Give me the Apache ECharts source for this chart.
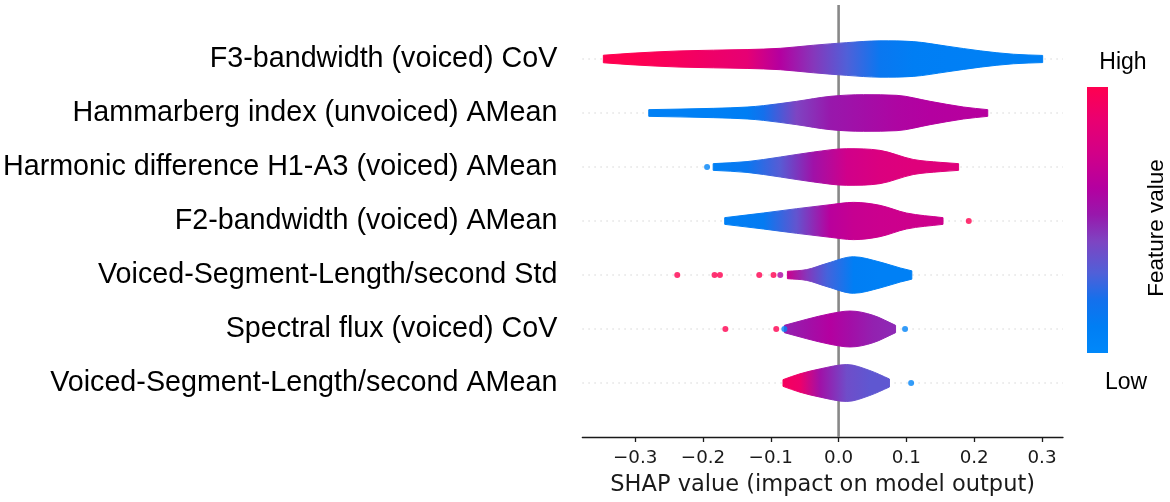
<!DOCTYPE html>
<html><head><meta charset="utf-8">
<script src="https://cdn.jsdelivr.net/npm/echarts@6/dist/echarts.min.js"></script>
<style>html,body{margin:0;padding:0;background:#fff;}#c{width:1170px;height:502px;}</style>
</head><body><div id="c"></div>
<script>
// Features, top row first
const features = [
  'F3-bandwidth (voiced) CoV',
  'Hammarberg index (unvoiced) AMean',
  'Harmonic difference H1-A3 (voiced) AMean',
  'F2-bandwidth (voiced) AMean',
  'Voiced-Segment-Length/second Std',
  'Spectral flux (voiced) CoV',
  'Voiced-Segment-Length/second AMean'
];
// SHAP positions sampled along each violin
const shapSamples = [
  [-0.347,-0.3075,-0.234,-0.135,-0.086,-0.037,0.012,0.061,0.110,0.160,0.209,0.258,0.301],
  [-0.280,-0.185,-0.135,-0.111,-0.062,-0.0125,0.037,0.086,0.135,0.184,0.220],
  [-0.185,-0.135,-0.086,-0.037,0.012,0.061,0.110,0.150,0.177],
  [-0.168,-0.111,-0.062,-0.0125,0.022,0.061,0.100,0.154],
  [-0.0755,-0.047,-0.017,0.022,0.061,0.091,0.108],
  [-0.080,-0.047,-0.0125,0.017,0.051,0.084],
  [-0.082,-0.057,-0.027,0.012,0.046,0.075]
];
// density half-width (in row units) at each sample
const halfWidths = [
  [0.070,0.105,0.150,0.175,0.198,0.255,0.303,0.336,0.322,0.237,0.151,0.088,0.066],
  [0.062,0.086,0.110,0.136,0.216,0.308,0.339,0.327,0.216,0.111,0.062],
  [0.062,0.100,0.185,0.277,0.339,0.308,0.140,0.086,0.062],
  [0.062,0.148,0.228,0.302,0.345,0.290,0.148,0.062],
  [0.068,0.100,0.216,0.338,0.240,0.130,0.077],
  [0.068,0.180,0.283,0.333,0.253,0.068],
  [0.062,0.170,0.262,0.342,0.231,0.074]
];
// mean feature value (0 = low, 1 = high) at each sample
const featureLevels = [
  [1.0,1.0,0.95,0.86,0.62,0.45,0.30,0.15,0.10,0.09,0.08,0.08,0.08],
  [0.08,0.08,0.10,0.20,0.42,0.52,0.56,0.60,0.62,0.63,0.63],
  [0.08,0.15,0.32,0.55,0.74,0.80,0.82,0.82,0.82],
  [0.08,0.12,0.35,0.64,0.70,0.72,0.73,0.73],
  [0.72,0.45,0.28,0.10,0.08,0.08,0.08],
  [0.50,0.55,0.62,0.56,0.50,0.48],
  [0.95,0.90,0.55,0.38,0.34,0.34]
];
// outlier points
const outlierShap = [
  [], [], [-0.194], [0.192],
  [-0.238,-0.183,-0.175,-0.117,-0.096,-0.086],
  [-0.167,-0.092,-0.080,0.098],
  [0.107]
];
const outlierLevels = [
  [], [], [0.05], [1.0],
  [1.0,1.0,1.0,1.0,1.0,0.6],
  [1.0,1.0,0.05,0.05],
  [0.05]
];
const xTicks = [-0.3,-0.2,-0.1,0.0,0.1,0.2,0.3];
const xMin = -0.378, xMax = 0.331;

// colormap (low blue -> high red)
const cmapStops = [
  [0.00,[0,136,250]],[0.10,[0,126,244]],[0.20,[20,112,236]],[0.30,[80,96,216]],
  [0.42,[126,68,194]],[0.52,[152,24,172]],[0.62,[180,0,160]],[0.75,[210,0,136]],
  [0.88,[234,0,112]],[1.00,[255,0,80]]
];
function cmap(t){
  t = Math.max(0, Math.min(1, t));
  for (let k = 1; k < cmapStops.length; k++){
    if (t <= cmapStops[k][0]){
      const a = cmapStops[k-1], b = cmapStops[k];
      const f = (t - a[0]) / (b[0] - a[0]);
      const c = a[1].map((v,m)=>Math.round(v + (b[1][m]-v)*f));
      return 'rgb(' + c.join(',') + ')';
    }
  }
  return 'rgb(255,0,80)';
}
// monotone cubic control points for pixel points sorted by x
function monoControls(P){
  const n = P.length, d = [], m = new Array(n);
  for (let k = 0; k < n - 1; k++) d.push((P[k+1][1] - P[k][1]) / (P[k+1][0] - P[k][0]));
  m[0] = d[0]; m[n-1] = d[n-2];
  for (let k = 1; k < n - 1; k++) m[k] = (d[k-1] * d[k] <= 0) ? 0 : (d[k-1] + d[k]) / 2;
  for (let k = 0; k < n - 1; k++){
    if (d[k] === 0){ m[k] = 0; m[k+1] = 0; continue; }
    const a = m[k] / d[k], b = m[k+1] / d[k], s = a*a + b*b;
    if (s > 9){ const t = 3 / Math.sqrt(s); m[k] = t*a*d[k]; m[k+1] = t*b*d[k]; }
  }
  const segs = [];
  for (let k = 0; k < n - 1; k++){
    const dx = (P[k+1][0] - P[k][0]) / 3;
    segs.push([[P[k][0] + dx, P[k][1] + m[k]*dx], [P[k+1][0] - dx, P[k+1][1] - m[k+1]*dx]]);
  }
  return segs;
}

const chart = echarts.init(document.getElementById('c'));
const rows = features.map((f,i)=>[i]);
const scatterData = [];
outlierShap.forEach((arr,i)=>arr.forEach((x,j)=>scatterData.push([x, 6 - i, outlierLevels[i][j]])));

chart.setOption({
  animation: false,
  grid: {left: 582, right: 107, top: 5, bottom: 64},
  xAxis: {
    type: 'value', min: xMin, max: xMax,
    axisLine: {show: true, onZero: false, lineStyle: {color: '#1a1a1a', width: 1.3}},
    axisTick: {show: true, customValues: xTicks, length: 5, lineStyle: {color: '#1a1a1a', width: 1.3}},
    axisLabel: {customValues: xTicks, margin: 12, fontFamily: 'DejaVu Sans', fontSize: 18.3, color: '#1a1a1a',
      formatter: v => (v < -1e-9 ? '\u2212' : '') + Math.abs(v).toFixed(1)},
    splitLine: {show: false},
    name: 'SHAP value (impact on model output)', nameLocation: 'middle', nameGap: 37,
    nameTextStyle: {fontFamily: 'DejaVu Sans', fontSize: 22.5, color: '#1a1a1a'}
  },
  yAxis: {
    type: 'value', min: -1, max: 7, interval: 1,
    axisLine: {show: false}, axisTick: {show: false}, splitLine: {show: false},
    axisLabel: {margin: 25, fontFamily: 'Liberation Sans', fontSize: 28.7, color: '#000',
      formatter: v => (v >= 0 && v <= 6) ? features[6 - v] : ''}
  },
  series: [
    { // dotted row guides
      type: 'custom', z: 1, data: rows, silent: true,
      renderItem: (p, api) => {
        const y = 6 - api.value(0);
        const a = api.coord([xMin, y]), b = api.coord([xMax, y]);
        return {type: 'line', shape: {x1: a[0], y1: a[1], x2: b[0], y2: b[1]},
          style: {stroke: '#d4d4d4', lineWidth: 1.2, lineDash: [1.5, 4.5]}};
      }
    },
    { // zero line
      type: 'custom', z: 2, data: [[0]], silent: true,
      renderItem: (p, api) => {
        const a = api.coord([api.value(0), -1]), b = api.coord([api.value(0), 7]);
        return {type: 'line', shape: {x1: a[0], y1: a[1], x2: b[0], y2: b[1]},
          style: {stroke: '#888888', lineWidth: 2.6}};
      }
    },
    { // violins
      type: 'custom', z: 3, data: rows, silent: true,
      renderItem: (p, api) => {
        const i = api.value(0), y = 6 - i;
        const xs = shapSamples[i], ws = halfWidths[i], lv = featureLevels[i];
        const top = xs.map((x,j)=>api.coord([x, y + ws[j]]));
        const bot = xs.map((x,j)=>api.coord([x, y - ws[j]]));
        const ct = monoControls(top), cb = monoControls(bot);
        const n = xs.length;
        let d = 'M' + top[0][0] + ',' + top[0][1];
        for (let k = 0; k < n - 1; k++)
          d += 'C' + ct[k][0].join(',') + ' ' + ct[k][1].join(',') + ' ' + top[k+1].join(',');
        d += 'L' + bot[n-1].join(',');
        for (let k = n - 2; k >= 0; k--)
          d += 'C' + cb[k][1].join(',') + ' ' + cb[k][0].join(',') + ' ' + bot[k].join(',');
        d += 'Z';
        const x0 = top[0][0], x1 = top[n-1][0];
        const stops = top.map((pt,j)=>({offset: Math.max(0, Math.min(1, (pt[0] - x0) / (x1 - x0))), color: cmap(lv[j])}));
        const grad = new echarts.graphic.LinearGradient(x0, 0, x1, 0, stops, true);
        return {type: 'path', shape: {pathData: d},
          style: {fill: grad, stroke: grad, lineWidth: 1}};
      }
    },
    { // outliers
      type: 'scatter', z: 4, data: scatterData, symbolSize: 6, silent: true,
      itemStyle: {color: p => cmap(p.data[2])}
    }
  ],
  graphic: [
    {type: 'rect', left: 1087, top: 87, shape: {width: 21, height: 266},
      style: {fill: new echarts.graphic.LinearGradient(0, 0, 0, 1,
        cmapStops.map(s => ({offset: 1 - s[0], color: 'rgb(' + s[1].join(',') + ')'})).reverse())}},
    {type: 'text', x: 1123, y: 63, style: {text: 'High', fontFamily: 'Liberation Sans', fontSize: 23, fill: '#000', align: 'center', verticalAlign: 'middle'}},
    {type: 'text', x: 1126, y: 383, style: {text: 'Low', fontFamily: 'Liberation Sans', fontSize: 23, fill: '#000', align: 'center', verticalAlign: 'middle'}},
    {type: 'text', x: 1157, y: 228, rotation: Math.PI / 2, style: {text: 'Feature value', fontFamily: 'Liberation Sans', fontSize: 22.5, fill: '#000', align: 'center', verticalAlign: 'middle'}}
  ]
});
</script></body></html>
